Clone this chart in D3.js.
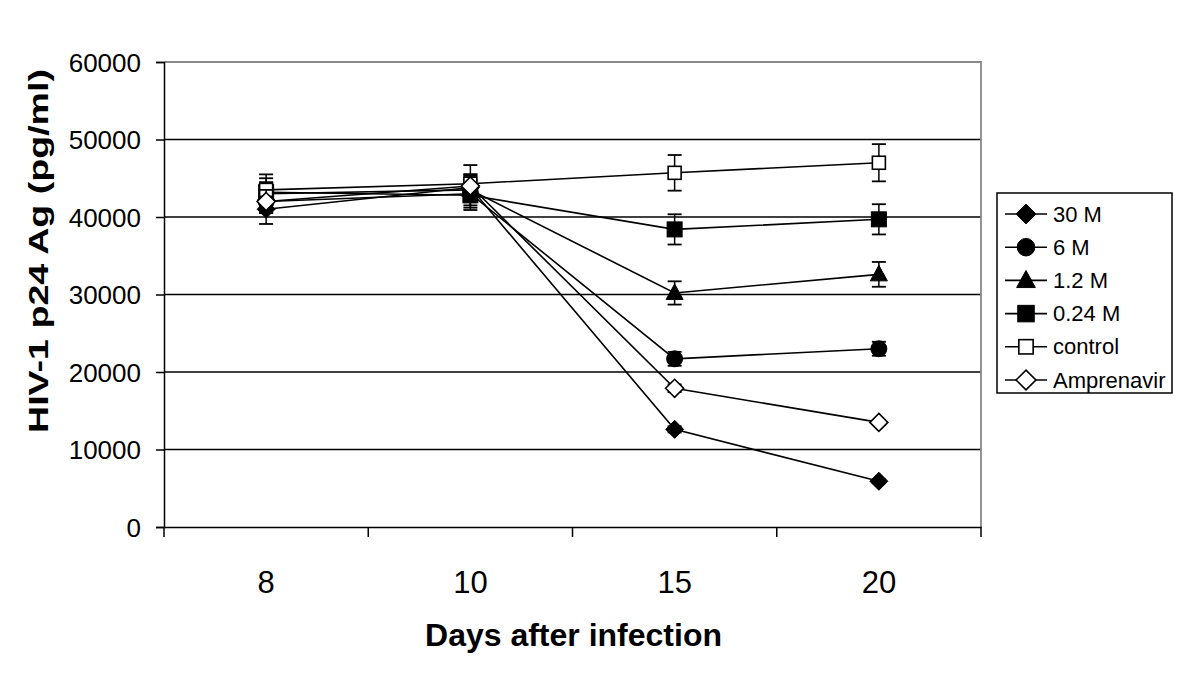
<!DOCTYPE html>
<html>
<head>
<meta charset="utf-8">
<script src="https://cdn.jsdelivr.net/npm/d3@7"></script>
<style>
  body { margin: 0; background: #fff; }
  text { font-family: "Liberation Sans", Arial, sans-serif; fill: #000; }
</style>
</head>
<body>
<div id="chart"></div>
<script>
const width = 1200;
const height = 674;

// data
const days = ["8", "10", "15", "20"];
const seriesNames = ["30 M", "6 M", "1.2 M", "0.24 M", "control", "Amprenavir"];
const s30 = [41000, 43800, 12600, 5900];
const s6 = [42000, 43000, 21700, 23000];
const s12 = [43000, 43500, 30200, 32600];
const s024 = [43200, 42800, 38400, 39700];
const sControl = [43500, 44300, 45700, 47000];
const sAmpren = [42000, 44000, 17900, 13500];
const e30 = [1900, 1500, 400, 250];
const e6 = [1500, 1800, 900, 900];
const e12 = [1500, 2000, 1500, 1600];
const e024 = [1800, 1900, 1950, 1950];
const eControl = [2000, 2400, 2300, 2400];
const eAmpren = [1500, 1500, 500, 300];
const yTicks = [0, 10000, 20000, 30000, 40000, 50000, 60000];

const series = [
  { name: seriesNames[0], values: s30, err: e30, shape: "diamond", fill: "#000" },
  { name: seriesNames[1], values: s6, err: e6, shape: "circle", fill: "#000" },
  { name: seriesNames[2], values: s12, err: e12, shape: "triangle", fill: "#000" },
  { name: seriesNames[3], values: s024, err: e024, shape: "square", fill: "#000" },
  { name: seriesNames[4], values: sControl, err: eControl, shape: "square", fill: "#fff" },
  { name: seriesNames[5], values: sAmpren, err: eAmpren, shape: "diamond", fill: "#fff" }
];

const plot = { left: 164, right: 981, top: 62, bottom: 527 };

const x = d3.scaleBand().domain(days).range([plot.left, plot.right]);
const y = d3.scaleLinear().domain([0, 60000]).range([plot.bottom, plot.top]);
const cx = d => x(d) + x.bandwidth() / 2;

const svg = d3.select("#chart").append("svg")
  .attr("width", width)
  .attr("height", height);

// gridlines
svg.append("g")
  .selectAll("line")
  .data(yTicks.filter(t => t > 0 && t < 60000))
  .enter()
  .append("line")
  .attr("x1", plot.left).attr("x2", plot.right)
  .attr("y1", d => y(d)).attr("y2", d => y(d))
  .attr("stroke", "#000").attr("stroke-width", 1.6);

// plot border top / right (grey)
svg.append("path")
  .attr("d", `M${plot.left},${plot.top}H${plot.right}V${plot.bottom}`)
  .attr("fill", "none").attr("stroke", "#888").attr("stroke-width", 1.8);

// y axis
const yAxis = svg.append("g")
  .attr("transform", `translate(${plot.left},0)`)
  .call(d3.axisLeft(y).tickValues(yTicks).tickSize(8).tickPadding(15).tickFormat(d3.format("d")));
yAxis.select(".domain").attr("stroke", "#000").attr("stroke-width", 1.5);
yAxis.selectAll(".tick line").attr("stroke", "#000").attr("stroke-width", 1.5);
yAxis.selectAll("text")
  .style("font-size", "26px")
  .attr("dy", "0.36em");

// x axis
const xAxis = svg.append("g")
  .attr("transform", `translate(0,${plot.bottom})`)
  .call(d3.axisBottom(x).tickSize(0).tickPadding(44));
xAxis.select(".domain").attr("stroke", "#000").attr("stroke-width", 1.6);
xAxis.selectAll("text").style("font-size", "31px");

const edges = days.map(d => x(d)).concat([plot.right]);
svg.append("g")
  .selectAll("line")
  .data(edges)
  .enter()
  .append("line")
  .attr("x1", d => d).attr("x2", d => d)
  .attr("y1", plot.bottom).attr("y2", plot.bottom + 10)
  .attr("stroke", "#000").attr("stroke-width", 1.5);

// axis titles
svg.append("text")
  .attr("x", (plot.left + plot.right) / 2 + 1)
  .attr("y", 646)
  .attr("text-anchor", "middle")
  .style("font-size", "32px")
  .style("font-weight", "bold")
  .text("Days after infection");

svg.append("text")
  .attr("transform", "translate(48,251) rotate(-90)")
  .attr("text-anchor", "middle")
  .attr("textLength", 364)
  .attr("lengthAdjust", "spacingAndGlyphs")
  .style("font-size", "27px")
  .style("font-weight", "bold")
  .text("HIV-1 p24 Ag (pg/ml)");

function symbolPath(shape, k) {
  if (shape === "diamond") return `M0,${-9 * k}L${9 * k},0L0,${9 * k}L${-9 * k},0Z`;
  if (shape === "circle") return d3.symbol().type(d3.symbolCircle).size(200 * k * k)();
  if (shape === "triangle") return `M0,${-9 * k}L${8.5 * k},${6.5 * k}L${-8.5 * k},${6.5 * k}Z`;
  return null;
}

function drawMarker(g, s, px, py, k = 1) {
  const stroke = s.fill === "#fff" ? 1.6 : 1;
  if (s.shape === "square") {
    const sz = (s.fill === "#fff" ? 13 : 15) * k;
    g.append("rect")
      .attr("x", px - sz / 2).attr("y", py - sz / 2)
      .attr("width", sz).attr("height", sz)
      .attr("fill", s.fill).attr("stroke", "#000").attr("stroke-width", stroke);
  } else {
    g.append("path")
      .attr("d", symbolPath(s.shape, k))
      .attr("transform", `translate(${px},${py})`)
      .attr("fill", s.fill).attr("stroke", "#000").attr("stroke-width", stroke);
  }
}

const line = d3.line()
  .x((d, i) => cx(days[i]))
  .y(d => y(d));

series.forEach(s => {
  const g = svg.append("g");
  // error bars
  s.values.forEach((v, i) => {
    const px = cx(days[i]);
    const hi = y(v + s.err[i]), lo = y(v - s.err[i]);
    g.append("line").attr("x1", px).attr("x2", px).attr("y1", hi).attr("y2", lo)
      .attr("stroke", "#000").attr("stroke-width", 1.5);
    [hi, lo].forEach(yy => {
      g.append("line").attr("x1", px - 7).attr("x2", px + 7).attr("y1", yy).attr("y2", yy)
        .attr("stroke", "#000").attr("stroke-width", 1.8);
    });
  });
  g.append("path")
    .attr("d", line(s.values))
    .attr("fill", "none").attr("stroke", "#000").attr("stroke-width", 1.6);
  s.values.forEach((v, i) => drawMarker(g, s, cx(days[i]), y(v)));
});

// legend
const legend = svg.append("g");
legend.append("rect")
  .attr("x", 997).attr("y", 193).attr("width", 175).attr("height", 200)
  .attr("fill", "#fff").attr("stroke", "#000").attr("stroke-width", 1.5);

series.forEach((s, i) => {
  const ly = 214 + i * 33.2;
  const g = legend.append("g");
  g.append("line").attr("x1", 1005).attr("x2", 1047).attr("y1", ly).attr("y2", ly)
    .attr("stroke", "#000").attr("stroke-width", 1.6);
  drawMarker(g, s, 1026, ly, 1.1);
  g.append("text")
    .attr("x", 1053).attr("y", ly + 7.5)
    .style("font-size", "22px")
    .text(s.name);
});
</script>
</body>
</html>
